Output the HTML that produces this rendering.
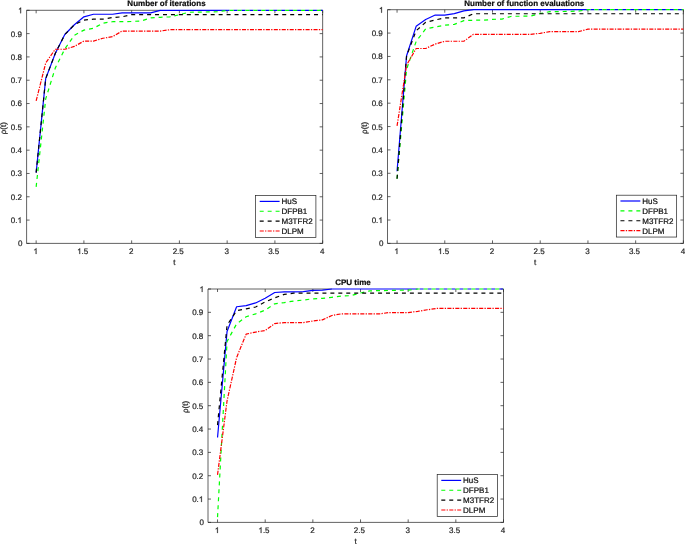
<!DOCTYPE html>
<html><head><meta charset="utf-8"><title>Performance profiles</title>
<style>html,body{margin:0;padding:0;background:#fff;}body{width:685px;height:544px;position:relative;overflow:hidden;font-family:"Liberation Sans",sans-serif;}</style>
</head><body>
<svg width="685" height="544" viewBox="0 0 685 544" style="position:absolute;left:0;top:0;display:block" font-family="Liberation Sans, sans-serif" font-size="8" fill="#262626" text-rendering="geometricPrecision">
<rect x="0" y="0" width="685" height="544" fill="#ffffff"/>
<g>
<path d="M36.15 243.40V240.40M36.15 10.30V13.30M83.90 243.40V240.40M83.90 10.30V13.30M131.65 243.40V240.40M131.65 10.30V13.30M179.40 243.40V240.40M179.40 10.30V13.30M227.15 243.40V240.40M227.15 10.30V13.30M274.90 243.40V240.40M274.90 10.30V13.30M322.65 243.40V240.40M322.65 10.30V13.30M26.60 243.40H29.60M322.65 243.40H319.65M26.60 220.09H29.60M322.65 220.09H319.65M26.60 196.78H29.60M322.65 196.78H319.65M26.60 173.47H29.60M322.65 173.47H319.65M26.60 150.16H29.60M322.65 150.16H319.65M26.60 126.85H29.60M322.65 126.85H319.65M26.60 103.54H29.60M322.65 103.54H319.65M26.60 80.23H29.60M322.65 80.23H319.65M26.60 56.92H29.60M322.65 56.92H319.65M26.60 33.61H29.60M322.65 33.61H319.65M26.60 10.30H29.60M322.65 10.30H319.65" stroke="#262626" stroke-width="0.72" fill="none"/>
<path d="M160.30 10.30H26.60V243.40H322.65V10.30" fill="none" stroke="#262626" stroke-width="0.72" stroke-linejoin="miter"/>
<polyline points="36.15,172.63 45.70,78.60 55.25,53.42 64.80,34.54 74.35,24.75 83.90,16.83 93.45,14.26 103.00,14.26 112.55,14.26 122.10,12.86 131.65,12.86 141.20,12.86 150.75,12.86 160.30,10.30 169.85,10.30 179.40,10.30 188.95,10.30 198.50,10.30 208.05,10.30 217.60,10.30 227.15,10.30" fill="none" stroke="#0000ff" stroke-width="1.2" stroke-linejoin="round"/>
<path d="M227.15 10.30H322.65" fill="none" stroke="#0000ff" stroke-width="1.2" stroke-dasharray="3.95 4" stroke-dashoffset="1.62"/>
<polyline points="36.15,186.87 45.70,98.88 55.25,68.11 64.80,48.99 74.35,35.24 83.90,30.11 93.45,28.25 103.00,23.12 112.55,21.72 122.10,21.72 131.65,21.49 141.20,20.91 150.75,17.88 160.30,17.29 169.85,16.83 179.40,14.73 188.95,12.28 198.50,12.16 208.05,11.93 217.60,11.70 227.15,10.30 236.70,10.30 246.25,10.30 255.80,10.30 265.35,10.30 274.90,10.30 284.45,10.30 294.00,10.30 303.55,10.30 313.10,10.30 322.65,10.30" fill="none" stroke="#00ff00" stroke-width="1.2" stroke-linejoin="round" stroke-dasharray="4 3.95"/>
<polyline points="36.15,172.63 45.70,78.60 55.25,53.42 64.80,34.54 74.35,24.75 83.90,20.09 93.45,19.16 103.00,19.16 112.55,17.53 122.10,16.83 131.65,14.61 141.20,14.61 150.75,14.61 160.30,14.61 169.85,14.61 179.40,14.61 188.95,14.61 198.50,14.61 208.05,14.61 217.60,14.61 227.15,14.61 236.70,14.61 246.25,14.61 255.80,14.61 265.35,14.61 274.90,14.61 284.45,14.61 294.00,14.61 303.55,14.61 313.10,14.61 322.65,14.61" fill="none" stroke="#000000" stroke-width="1.2" stroke-linejoin="round" stroke-dasharray="4 3.95"/>
<polyline points="36.15,100.84 45.70,62.98 55.25,49.23 64.80,49.23 74.35,46.43 83.90,41.07 93.45,41.07 103.00,38.27 112.55,36.64 122.10,31.05 131.65,31.05 141.20,31.05 150.75,31.05 160.30,31.05 169.85,29.72 179.40,29.72 188.95,29.72 198.50,29.72 208.05,29.72 217.60,29.72 227.15,29.72 236.70,29.72 246.25,29.72 255.80,29.72 265.35,29.72 274.90,29.72 284.45,29.72 294.00,29.72 303.55,29.72 313.10,29.72 322.65,29.72" fill="none" stroke="#ff0000" stroke-width="1.2" stroke-linejoin="round" stroke-dasharray="4.1 1.25 1.3 1.3"/>
<rect x="255.60" y="195.60" width="60.30" height="41.85" fill="none" stroke="#262626" stroke-width="0.72"/>
<path d="M259.70 201.40H279.60" stroke="#0000ff" stroke-width="1.2" fill="none"/>
<path d="M259.70 211.27H279.60" stroke="#00ff00" stroke-width="1.2" fill="none" stroke-dasharray="4 3.95"/>
<path d="M259.70 221.14H279.60" stroke="#000000" stroke-width="1.2" fill="none" stroke-dasharray="4 3.95"/>
<path d="M259.70 231.01H279.60" stroke="#ff0000" stroke-width="1.2" fill="none" stroke-dasharray="4.1 1.25 1.3 1.3"/>
</g>
<g>
<path d="M397.05 243.40V240.40M397.05 9.70V12.70M444.77 243.40V240.40M444.77 9.70V12.70M492.50 243.40V240.40M492.50 9.70V12.70M540.22 243.40V240.40M540.22 9.70V12.70M587.95 243.40V240.40M587.95 9.70V12.70M635.67 243.40V240.40M635.67 9.70V12.70M683.40 243.40V240.40M683.40 9.70V12.70M387.50 243.40H390.50M683.40 243.40H680.40M387.50 220.03H390.50M683.40 220.03H680.40M387.50 196.66H390.50M683.40 196.66H680.40M387.50 173.29H390.50M683.40 173.29H680.40M387.50 149.92H390.50M683.40 149.92H680.40M387.50 126.55H390.50M683.40 126.55H680.40M387.50 103.18H390.50M683.40 103.18H680.40M387.50 79.81H390.50M683.40 79.81H680.40M387.50 56.44H390.50M683.40 56.44H680.40M387.50 33.07H390.50M683.40 33.07H680.40M387.50 9.70H390.50M683.40 9.70H680.40" stroke="#262626" stroke-width="0.72" fill="none"/>
<path d="M473.41 9.70H387.50V243.40H683.40V9.70" fill="none" stroke="#262626" stroke-width="0.72" stroke-linejoin="miter"/>
<polyline points="397.05,171.23 406.59,55.74 416.14,26.36 425.68,19.52 435.23,15.08 444.77,15.08 454.32,13.67 463.86,10.87 473.41,9.70 482.95,9.70 492.50,9.70 502.04,9.70 511.59,9.70 521.13,9.70 530.68,9.70 540.22,9.70 549.77,9.70 559.31,9.70 568.86,9.70 578.40,9.70 587.95,9.70" fill="none" stroke="#0000ff" stroke-width="1.2" stroke-linejoin="round"/>
<path d="M587.95 9.70H683.40" fill="none" stroke="#0000ff" stroke-width="1.2" stroke-dasharray="3.95 4" stroke-dashoffset="5.49"/>
<polyline points="397.05,178.76 406.59,69.29 416.14,41.48 425.68,28.86 435.23,26.99 444.77,25.12 454.32,24.42 463.86,20.68 473.41,20.22 482.95,20.22 492.50,19.40 502.04,19.05 511.59,16.24 521.13,16.24 530.68,16.01 540.22,13.49 549.77,11.69 559.31,11.57 568.86,11.34 578.40,11.10 587.95,9.70 597.49,9.70 607.04,9.70 616.58,9.70 626.13,9.70 635.67,9.70 645.22,9.70 654.76,9.70 664.31,9.70 673.85,9.70 683.40,9.70" fill="none" stroke="#00ff00" stroke-width="1.2" stroke-linejoin="round" stroke-dasharray="4 3.95"/>
<polyline points="397.05,178.76 406.59,55.74 416.14,30.73 425.68,22.32 435.23,19.98 444.77,17.88 454.32,17.88 463.86,17.88 473.41,13.77 482.95,13.77 492.50,13.77 502.04,13.77 511.59,13.77 521.13,13.77 530.68,13.77 540.22,13.77 549.77,13.77 559.31,13.77 568.86,13.77 578.40,13.77 587.95,13.77 597.49,13.77 607.04,13.77 616.58,13.77 626.13,13.77 635.67,13.77 645.22,13.77 654.76,13.77 664.31,13.77 673.85,13.77 683.40,13.77" fill="none" stroke="#000000" stroke-width="1.2" stroke-linejoin="round" stroke-dasharray="4 3.95"/>
<polyline points="397.05,125.90 406.59,65.09 416.14,48.49 425.68,48.49 435.23,44.05 444.77,41.25 454.32,41.25 463.86,41.25 473.41,34.29 482.95,34.29 492.50,34.29 502.04,34.29 511.59,34.29 521.13,34.29 530.68,34.29 540.22,33.30 549.77,31.67 559.31,31.67 568.86,31.67 578.40,31.67 587.95,29.17 597.49,29.17 607.04,29.17 616.58,29.17 626.13,29.17 635.67,29.17 645.22,29.17 654.76,29.17 664.31,29.17 673.85,29.17 683.40,29.17" fill="none" stroke="#ff0000" stroke-width="1.2" stroke-linejoin="round" stroke-dasharray="4.1 1.25 1.3 1.3"/>
<rect x="616.35" y="195.20" width="60.30" height="41.85" fill="none" stroke="#262626" stroke-width="0.72"/>
<path d="M620.45 201.00H640.35" stroke="#0000ff" stroke-width="1.2" fill="none"/>
<path d="M620.45 210.87H640.35" stroke="#00ff00" stroke-width="1.2" fill="none" stroke-dasharray="4 3.95"/>
<path d="M620.45 220.74H640.35" stroke="#000000" stroke-width="1.2" fill="none" stroke-dasharray="4 3.95"/>
<path d="M620.45 230.61H640.35" stroke="#ff0000" stroke-width="1.2" fill="none" stroke-dasharray="4.1 1.25 1.3 1.3"/>
</g>
<g>
<path d="M217.53 522.40V519.40M217.53 289.00V292.00M265.19 522.40V519.40M265.19 289.00V292.00M312.85 522.40V519.40M312.85 289.00V292.00M360.52 522.40V519.40M360.52 289.00V292.00M408.18 522.40V519.40M408.18 289.00V292.00M455.84 522.40V519.40M455.84 289.00V292.00M503.50 522.40V519.40M503.50 289.00V292.00M208.00 522.40H211.00M503.50 522.40H500.50M208.00 499.06H211.00M503.50 499.06H500.50M208.00 475.72H211.00M503.50 475.72H500.50M208.00 452.38H211.00M503.50 452.38H500.50M208.00 429.04H211.00M503.50 429.04H500.50M208.00 405.70H211.00M503.50 405.70H500.50M208.00 382.36H211.00M503.50 382.36H500.50M208.00 359.02H211.00M503.50 359.02H500.50M208.00 335.68H211.00M503.50 335.68H500.50M208.00 312.34H211.00M503.50 312.34H500.50M208.00 289.00H211.00M503.50 289.00H500.50" stroke="#262626" stroke-width="0.72" fill="none"/>
<path d="M331.92 289.00H208.00V522.40H503.50V289.00" fill="none" stroke="#262626" stroke-width="0.72" stroke-linejoin="miter"/>
<polyline points="217.53,437.54 227.06,331.41 236.60,306.74 246.13,305.69 255.66,302.93 265.19,298.17 274.73,292.50 284.26,291.92 293.79,291.80 303.32,291.57 312.85,290.40 322.39,290.17 331.92,289.00 341.45,289.00 350.98,289.00 360.52,289.00 370.05,289.00 379.58,289.00 389.11,289.00 398.65,289.00 408.18,289.00 417.71,289.00" fill="none" stroke="#0000ff" stroke-width="1.2" stroke-linejoin="round"/>
<path d="M417.71 289.00H503.50" fill="none" stroke="#0000ff" stroke-width="1.2" stroke-dasharray="3.95 4" stroke-dashoffset="5.99"/>
<polyline points="217.53,517.15 227.06,341.51 236.60,323.89 246.13,316.77 255.66,313.86 265.19,310.10 274.73,303.82 284.26,302.54 293.79,301.04 303.32,300.04 312.85,298.80 322.39,298.41 331.92,297.29 341.45,296.00 350.98,295.68 360.52,292.97 370.05,290.82 379.58,290.63 389.11,290.47 398.65,290.28 408.18,290.17 417.71,289.00 427.24,289.00 436.77,289.00 446.31,289.00 455.84,289.00 465.37,289.00 474.90,289.00 484.44,289.00 493.97,289.00 503.50,289.00" fill="none" stroke="#00ff00" stroke-width="1.2" stroke-linejoin="round" stroke-dasharray="4 3.95"/>
<polyline points="217.53,425.14 227.06,325.18 236.60,310.71 246.13,308.84 255.66,306.97 265.19,301.93 274.73,297.87 284.26,294.37 293.79,293.20 303.32,293.20 312.85,293.20 322.39,293.20 331.92,293.20 341.45,293.20 350.98,293.20 360.52,293.20 370.05,293.20 379.58,293.20 389.11,293.20 398.65,293.20 408.18,293.20 417.71,293.20 427.24,293.20 436.77,293.20 446.31,293.20 455.84,293.20 465.37,293.20 474.90,293.20 484.44,293.20 493.97,293.20 503.50,293.20" fill="none" stroke="#000000" stroke-width="1.2" stroke-linejoin="round" stroke-dasharray="4 3.95"/>
<polyline points="217.53,474.83 227.06,400.80 236.60,357.62 246.13,334.12 255.66,332.04 265.19,330.55 274.73,323.54 284.26,322.61 293.79,322.61 303.32,322.61 312.85,320.98 322.39,319.88 331.92,315.49 341.45,313.86 350.98,313.86 360.52,313.86 370.05,313.86 379.58,313.86 389.11,312.57 398.65,312.57 408.18,312.57 417.71,311.34 427.24,309.77 436.77,308.44 446.31,308.44 455.84,308.44 465.37,308.44 474.90,308.44 484.44,308.44 493.97,308.44 503.50,308.44" fill="none" stroke="#ff0000" stroke-width="1.2" stroke-linejoin="round" stroke-dasharray="4.1 1.25 1.3 1.3"/>
<rect x="437.20" y="474.60" width="60.30" height="41.85" fill="none" stroke="#262626" stroke-width="0.72"/>
<path d="M441.30 480.40H461.20" stroke="#0000ff" stroke-width="1.2" fill="none"/>
<path d="M441.30 490.27H461.20" stroke="#00ff00" stroke-width="1.2" fill="none" stroke-dasharray="4 3.95"/>
<path d="M441.30 500.14H461.20" stroke="#000000" stroke-width="1.2" fill="none" stroke-dasharray="4 3.95"/>
<path d="M441.30 510.01H461.20" stroke="#ff0000" stroke-width="1.2" fill="none" stroke-dasharray="4.1 1.25 1.3 1.3"/>
</g>
<defs><filter id="gs" x="0" y="0" width="685" height="544" filterUnits="userSpaceOnUse"><feOffset dx="0" dy="0"/></filter></defs>
<g filter="url(#gs)" stroke="#262626" stroke-width="0.22" stroke-linejoin="round">
<path class="g1" transform="translate(33.44 254.00) scale(0.003906 -0.003906)" d="M763 0H583V1147Q518 1085 412.5 1023Q307 961 223 930V1104Q374 1175 487 1276Q600 1377 647 1472H763Z" stroke-width="56.3"/>
<path class="g1" transform="translate(77.14 254.00) scale(0.003906 -0.003906)" d="M763 0H583V1147Q518 1085 412.5 1023Q307 961 223 930V1104Q374 1175 487 1276Q600 1377 647 1472H763Z" stroke-width="56.3"/>
<text x="81.59" y="254.00">.5</text>
<text x="128.94" y="254.00">2</text>
<text x="172.64" y="254.00">2.5</text>
<text x="224.44" y="254.00">3</text>
<text x="268.14" y="254.00">3.5</text>
<text x="319.94" y="254.00">4</text>
<text x="18.09" y="246.35">0</text>
<text x="10.78" y="223.04">0.</text>
<path class="g1" transform="translate(17.45 223.04) scale(0.003906 -0.003906)" d="M763 0H583V1147Q518 1085 412.5 1023Q307 961 223 930V1104Q374 1175 487 1276Q600 1377 647 1472H763Z" stroke-width="56.3"/>
<text x="10.78" y="199.73">0.2</text>
<text x="10.78" y="176.42">0.3</text>
<text x="10.78" y="153.11">0.4</text>
<text x="10.78" y="129.80">0.5</text>
<text x="10.78" y="106.49">0.6</text>
<text x="10.78" y="83.18">0.7</text>
<text x="10.78" y="59.87">0.8</text>
<text x="10.78" y="36.56">0.9</text>
<path class="g1" transform="translate(18.09 13.25) scale(0.003906 -0.003906)" d="M763 0H583V1147Q518 1085 412.5 1023Q307 961 223 930V1104Q374 1175 487 1276Q600 1377 647 1472H763Z" stroke-width="56.3"/>
<text x="127.36" y="6.45" font-weight="bold" font-size="8" fill="#000">Number of iterations</text>
<text x="173.27" y="265.00" font-size="8">t</text>
<text transform="translate(6.40 134.21) rotate(-90)" font-size="8">ρ(t)</text>
<text x="281.50" y="204.30" fill="#000">HuS</text>
<text x="281.50" y="214.17" fill="#000">DFPB1</text>
<text x="281.50" y="224.04" fill="#000">M3TFR2</text>
<text x="281.50" y="233.91" fill="#000">DLPM</text>
<path class="g1" transform="translate(394.34 254.00) scale(0.003906 -0.003906)" d="M763 0H583V1147Q518 1085 412.5 1023Q307 961 223 930V1104Q374 1175 487 1276Q600 1377 647 1472H763Z" stroke-width="56.3"/>
<path class="g1" transform="translate(438.01 254.00) scale(0.003906 -0.003906)" d="M763 0H583V1147Q518 1085 412.5 1023Q307 961 223 930V1104Q374 1175 487 1276Q600 1377 647 1472H763Z" stroke-width="56.3"/>
<text x="442.46" y="254.00">.5</text>
<text x="489.79" y="254.00">2</text>
<text x="533.46" y="254.00">2.5</text>
<text x="585.24" y="254.00">3</text>
<text x="628.91" y="254.00">3.5</text>
<text x="680.69" y="254.00">4</text>
<text x="378.99" y="246.35">0</text>
<text x="371.68" y="222.98">0.</text>
<path class="g1" transform="translate(378.35 222.98) scale(0.003906 -0.003906)" d="M763 0H583V1147Q518 1085 412.5 1023Q307 961 223 930V1104Q374 1175 487 1276Q600 1377 647 1472H763Z" stroke-width="56.3"/>
<text x="371.68" y="199.61">0.2</text>
<text x="371.68" y="176.24">0.3</text>
<text x="371.68" y="152.87">0.4</text>
<text x="371.68" y="129.50">0.5</text>
<text x="371.68" y="106.13">0.6</text>
<text x="371.68" y="82.76">0.7</text>
<text x="371.68" y="59.39">0.8</text>
<text x="371.68" y="36.02">0.9</text>
<path class="g1" transform="translate(378.99 12.65) scale(0.003906 -0.003906)" d="M763 0H583V1147Q518 1085 412.5 1023Q307 961 223 930V1104Q374 1175 487 1276Q600 1377 647 1472H763Z" stroke-width="56.3"/>
<text x="464.28" y="6.45" font-weight="bold" font-size="8" fill="#000">Number of function evaluations</text>
<text x="534.10" y="265.00" font-size="8">t</text>
<text transform="translate(367.30 133.91) rotate(-90)" font-size="8">ρ(t)</text>
<text x="642.25" y="203.90" fill="#000">HuS</text>
<text x="642.25" y="213.77" fill="#000">DFPB1</text>
<text x="642.25" y="223.64" fill="#000">M3TFR2</text>
<text x="642.25" y="233.51" fill="#000">DLPM</text>
<path class="g1" transform="translate(214.83 533.00) scale(0.003906 -0.003906)" d="M763 0H583V1147Q518 1085 412.5 1023Q307 961 223 930V1104Q374 1175 487 1276Q600 1377 647 1472H763Z" stroke-width="56.3"/>
<path class="g1" transform="translate(258.43 533.00) scale(0.003906 -0.003906)" d="M763 0H583V1147Q518 1085 412.5 1023Q307 961 223 930V1104Q374 1175 487 1276Q600 1377 647 1472H763Z" stroke-width="56.3"/>
<text x="262.88" y="533.00">.5</text>
<text x="310.15" y="533.00">2</text>
<text x="353.75" y="533.00">2.5</text>
<text x="405.47" y="533.00">3</text>
<text x="449.08" y="533.00">3.5</text>
<text x="500.79" y="533.00">4</text>
<text x="199.49" y="525.35">0</text>
<text x="192.18" y="502.01">0.</text>
<path class="g1" transform="translate(198.85 502.01) scale(0.003906 -0.003906)" d="M763 0H583V1147Q518 1085 412.5 1023Q307 961 223 930V1104Q374 1175 487 1276Q600 1377 647 1472H763Z" stroke-width="56.3"/>
<text x="192.18" y="478.67">0.2</text>
<text x="192.18" y="455.33">0.3</text>
<text x="192.18" y="431.99">0.4</text>
<text x="192.18" y="408.65">0.5</text>
<text x="192.18" y="385.31">0.6</text>
<text x="192.18" y="361.97">0.7</text>
<text x="192.18" y="338.63">0.8</text>
<text x="192.18" y="315.29">0.9</text>
<path class="g1" transform="translate(199.49 291.95) scale(0.003906 -0.003906)" d="M763 0H583V1147Q518 1085 412.5 1023Q307 961 223 930V1104Q374 1175 487 1276Q600 1377 647 1472H763Z" stroke-width="56.3"/>
<text x="335.13" y="285.10" font-weight="bold" font-size="8" fill="#000">CPU time</text>
<text x="354.40" y="544.00" font-size="8">t</text>
<text transform="translate(187.80 413.06) rotate(-90)" font-size="8">ρ(t)</text>
<text x="463.10" y="483.30" fill="#000">HuS</text>
<text x="463.10" y="493.17" fill="#000">DFPB1</text>
<text x="463.10" y="503.04" fill="#000">M3TFR2</text>
<text x="463.10" y="512.91" fill="#000">DLPM</text>
</g>
</svg>
</body></html>
